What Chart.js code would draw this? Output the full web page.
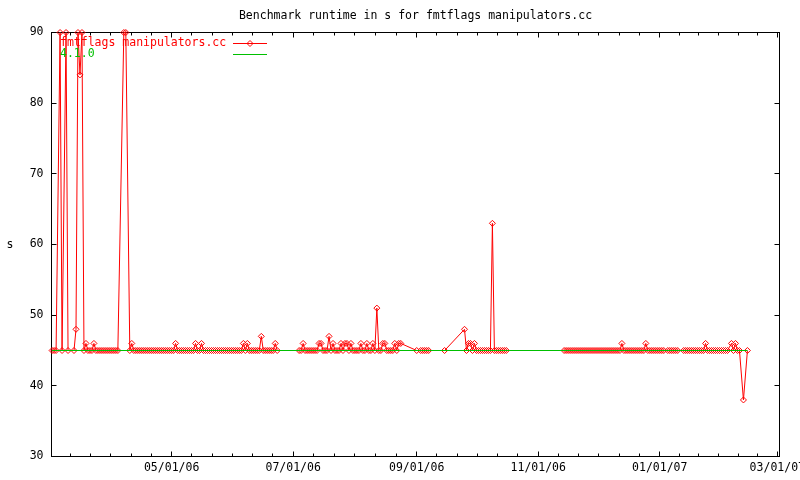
<!DOCTYPE html>
<html>
<head>
<meta charset="utf-8">
<title>Benchmark runtime in s for fmtflags manipulators.cc</title>
<script src="https://cdn.jsdelivr.net/npm/chart.js@4.4.0/dist/chart.umd.min.js"></script>
<style>
  html, body { margin: 0; padding: 0; background: #fff; }
  canvas { display: block; }
</style>
</head>
<body>
<canvas id="runtimeChart" width="800" height="480"></canvas>
<script>
const titleText = "Benchmark runtime in s for fmtflags manipulators.cc";
const seriesLabel = "fmtflags manipulators.cc";
const baselineLabel = "4.1.0";
const yAxisLabel = "s";

// x values are days counted from 03/01/06
const runDays = [
  1, 2, 3, 5, 6, 8, 9, 12, 13, 14, 15, 16, 17, 18, 19, 20, 21, 22,
  23, 24, 25, 26, 27, 28, 29, 30, 31, 32, 33, 34, 37, 38, 40, 41,
  42, 43, 44, 45, 46, 47, 48, 49, 50, 51,
  52, 53, 54, 55, 56, 57, 58, 59, 60, 61,
  62, 63, 64, 65, 66, 67, 68, 69, 70, 71,
  72, 73, 74, 75, 76, 77, 78, 79, 80, 81,
  82, 83, 84, 85, 86, 87, 88, 89, 90, 91,
  92, 93, 94, 95, 96, 97, 98, 99, 100, 101,
  102, 103, 104, 105, 106, 107, 108, 109, 110, 111,
  112, 113, 114,
  125, 126, 127, 128, 129, 130, 131, 132, 133, 134,
  135, 136, 137, 138, 139, 140, 141, 142, 143, 144,
  145, 146, 147, 148, 149, 150, 151, 152, 153, 154,
  155, 156, 157, 158, 159, 160, 161, 162, 163, 164,
  165, 166, 167, 168, 169, 170, 171, 172, 173, 174,
  175, 176,
  184, 186, 187, 188, 189, 190, 198, 208,
  209, 210, 211, 212, 213, 214, 215, 216, 217, 218,
  219, 220, 221, 222, 223, 224, 225, 226, 227, 228,
  229,
  258, 259, 260, 261, 262, 263, 264, 265, 266, 267,
  268, 269, 270, 271, 272, 273, 274, 275, 276, 277,
  278, 279, 280, 281, 282, 283, 284, 285, 286, 287,
  288, 289, 290, 291, 292, 293, 294, 295, 296, 297,
  298, 299, 300, 301, 302, 303, 304, 305, 306, 307,
  308, 310, 311, 312, 313, 314, 315,
  318, 319, 320, 321, 322, 323, 324, 325, 326, 327,
  328, 329, 330, 331, 332, 333, 334, 335, 336, 337,
  338, 339, 340, 342, 343, 344, 345, 346, 348, 350
];

const runSeconds = [
  45, 45, 45, 90, 45, 90, 45, 45, 48, 90, 84, 90, 45, 46, 45, 45, 45, 46,
  45, 45, 45, 45, 45, 45, 45, 45, 45, 45, 45, 45, 90, 90, 45, 46,
  45, 45, 45, 45, 45, 45, 45, 45, 45, 45,
  45, 45, 45, 45, 45, 45, 45, 45, 45, 45,
  45, 46, 45, 45, 45, 45, 45, 45, 45, 45,
  45, 46, 45, 45, 46, 45, 45, 45, 45, 45,
  45, 45, 45, 45, 45, 45, 45, 45, 45, 45,
  45, 45, 45, 45, 45, 46, 45, 46, 45, 45,
  45, 45, 45, 45, 47, 45, 45, 45, 45, 45,
  45, 46, 45,
  45, 45, 46, 45, 45, 45, 45, 45, 45, 45,
  46, 46, 45, 45, 45, 47, 45, 46, 45, 45,
  45, 46, 45, 46, 46, 45, 46, 45, 45, 45,
  45, 46, 45, 45, 46, 45, 45, 46, 45, 51,
  45, 45, 46, 46, 45, 45, 45, 45, 46, 45,
  46, 46,
  45, 45, 45, 45, 45, 45, 45, 48,
  45, 46, 46, 45, 46, 45, 45, 45, 45, 45,
  45, 45, 45, 63, 45, 45, 45, 45, 45, 45,
  45,
  45, 45, 45, 45, 45, 45, 45, 45, 45, 45,
  45, 45, 45, 45, 45, 45, 45, 45, 45, 45,
  45, 45, 45, 45, 45, 45, 45, 45, 45, 46,
  45, 45, 45, 45, 45, 45, 45, 45, 45, 45,
  45, 46, 45, 45, 45, 45, 45, 45, 45, 45,
  45, 45, 45, 45, 45, 45, 45,
  45, 45, 45, 45, 45, 45, 45, 45, 45, 45,
  45, 46, 45, 45, 45, 45, 45, 45, 45, 45,
  45, 45, 45, 46, 45, 46, 45, 45, 38, 45
];

// 4.1.0 reference run, flat across the whole period
const baselineDays = [1, 350];
const baselineSeconds = [45, 45];

const tickDays = [61, 122, 184, 245, 306, 365];
const tickLabels = ["05/01/06", "07/01/06", "09/01/06", "11/01/06", "01/01/07", "03/01/07"];

const RED = "#ff0000";
const GREEN = "#00c000";
const FONT_FAMILY = "'DejaVu Sans Mono', monospace";
const FONT_SIZE = 11.5;
const MAJOR_TIC = 5;
const MINOR_TIC = 3;

function toPoints(days, values) {
  return days.map((d, i) => ({ x: d, y: values[i] }));
}

// gnuplot style box: full border, tics pointing inwards and mirrored
const framePlugin = {
  id: "frame",
  beforeDatasetsDraw(chart) {
    const { ctx, chartArea: area, scales } = chart;
    const xs = scales.x;
    const ys = scales.y;

    const minor = [];
    for (let i = 0; i < tickDays.length - 1; i++) {
      const step = (tickDays[i + 1] - tickDays[i]) / 6;
      for (let k = 1; k < 6; k++) minor.push(tickDays[i] + k * step);
    }
    const firstStep = (tickDays[1] - tickDays[0]) / 6;
    for (let v = tickDays[0] - firstStep; v > xs.min; v -= firstStep) minor.push(v);
    const n = tickDays.length;
    const lastStep = (tickDays[n - 1] - tickDays[n - 2]) / 6;
    for (let v = tickDays[n - 1] + lastStep; v < xs.max; v += lastStep) minor.push(v);

    ctx.save();
    ctx.strokeStyle = "#000";
    ctx.lineWidth = 1;
    ctx.beginPath();

    ys.ticks.forEach((t) => {
      const py = Math.round(ys.getPixelForValue(t.value) - 0.5) + 0.5;
      ctx.moveTo(area.left, py);
      ctx.lineTo(area.left + MAJOR_TIC, py);
      ctx.moveTo(area.right, py);
      ctx.lineTo(area.right - MAJOR_TIC, py);
    });

    const xTic = (v, len) => {
      const px = Math.round(xs.getPixelForValue(v) - 0.5) + 0.5;
      ctx.moveTo(px, area.bottom);
      ctx.lineTo(px, area.bottom - len);
      ctx.moveTo(px, area.top);
      ctx.lineTo(px, area.top + len);
    };
    tickDays.forEach((v) => xTic(v, MAJOR_TIC));
    minor.forEach((v) => xTic(v, MINOR_TIC));

    ctx.stroke();
    ctx.strokeRect(area.left, area.top, area.right - area.left, area.bottom - area.top);
    ctx.restore();
  }
};

// title, axis label and the key in the top left corner
const textPlugin = {
  id: "gnuplotText",
  afterDatasetsDraw(chart) {
    const { ctx, chartArea: area } = chart;
    ctx.save();
    ctx.font = FONT_SIZE + "px " + FONT_FAMILY;
    ctx.textBaseline = "middle";

    ctx.fillStyle = "#000";
    ctx.textAlign = "center";
    ctx.fillText(titleText, (area.left + area.right) / 2, 16);
    ctx.fillText(yAxisLabel, 10, 245);

    ctx.textAlign = "left";
    const keyRows = [43, 54];
    chart.data.datasets.forEach((ds, i) => {
      const y = keyRows[i] + 0.5;
      ctx.fillStyle = ds.borderColor;
      ctx.fillText(ds.label, 60, keyRows[i]);
      ctx.strokeStyle = ds.borderColor;
      ctx.lineWidth = 1;
      ctx.beginPath();
      ctx.moveTo(233, y);
      ctx.lineTo(267, y);
      ctx.stroke();
      if (ds.pointRadius > 0) {
        const r = ds.pointRadius;
        ctx.beginPath();
        ctx.moveTo(250, y - r);
        ctx.lineTo(250 + r, y);
        ctx.lineTo(250, y + r);
        ctx.lineTo(250 - r, y);
        ctx.closePath();
        ctx.stroke();
      }
    });
    ctx.restore();
  }
};

function renderRuntimeChart() {
  const ctx = document.getElementById("runtimeChart");
  const tickFont = { family: FONT_FAMILY, size: FONT_SIZE };

  new Chart(ctx, {
    type: "line",
    data: {
      datasets: [
        {
          label: seriesLabel,
          data: toPoints(runDays, runSeconds),
          borderColor: RED,
          borderWidth: 1,
          tension: 0,
          pointStyle: "rectRot",
          pointRadius: 3,
          pointBorderWidth: 1,
          pointBorderColor: RED,
          pointBackgroundColor: "rgba(0,0,0,0)",
          clip: false,
          order: 1
        },
        {
          label: baselineLabel,
          data: toPoints(baselineDays, baselineSeconds),
          borderColor: GREEN,
          borderWidth: 1,
          pointRadius: 0,
          clip: false,
          order: 0
        }
      ]
    },
    options: {
      responsive: false,
      animation: false,
      events: [],
      layout: { padding: { top: 32.5, right: 20.5, left: 0, bottom: 0 } },
      plugins: {
        legend: { display: false },
        title: { display: false },
        tooltip: { enabled: false }
      },
      scales: {
        x: {
          type: "linear",
          min: 0.7,
          max: 366.1,
          afterBuildTicks: (scale) => {
            scale.ticks = tickDays.map((v) => ({ value: v }));
          },
          afterFit: (scale) => {
            scale.height = 23.5;
            scale.paddingLeft = 0;
            scale.paddingRight = 0;
          },
          ticks: {
            autoSkip: false,
            maxRotation: 0,
            padding: 4.5,
            color: "#000",
            font: tickFont,
            callback: (value, index) => tickLabels[index]
          },
          grid: { display: false, drawTicks: false },
          border: { display: false }
        },
        y: {
          min: 30,
          max: 90,
          afterFit: (scale) => {
            scale.width = 51.5;
            scale.paddingTop = 0;
            scale.paddingBottom = 0;
          },
          ticks: {
            stepSize: 10,
            padding: 8,
            color: "#000",
            font: tickFont
          },
          grid: { display: false, drawTicks: false },
          border: { display: false }
        }
      }
    },
    plugins: [framePlugin, textPlugin]
  });
}

document.addEventListener("DOMContentLoaded", () => {
  renderRuntimeChart();
});
</script>
</body>
</html>
